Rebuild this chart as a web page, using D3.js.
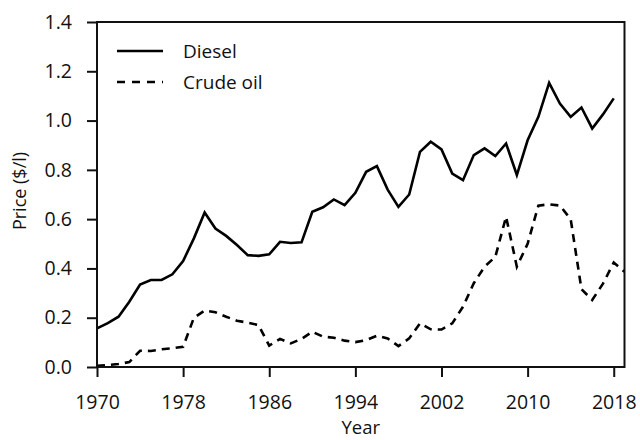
<!DOCTYPE html>
<html>
<head>
<meta charset="utf-8">
<script src="https://cdn.jsdelivr.net/npm/d3@7"></script>
<style>
  body { margin: 0; background: #fff; }
  text { font-family: "Open Sans", sans-serif; fill: #111; }
</style>
</head>
<body>
<figure id="chart" style="margin:0"></figure>
<script>
// years shown on the x axis
const xTicks = [1970, 1978, 1986, 1994, 2002, 2010, 2018];
const yTicks = [0, 0.2, 0.4, 0.6, 0.8, 1.0, 1.2, 1.4];

// diesel price 1970..2018 ($/l)
const dieselStart = 1970;
const diesel = [0.157, 0.178, 0.204, 0.265, 0.335, 0.353, 0.353, 0.376, 0.43, 0.522,
  0.627, 0.562, 0.532, 0.495, 0.454, 0.451, 0.457, 0.508, 0.503, 0.506,
  0.63, 0.648, 0.68, 0.657, 0.707, 0.792, 0.815, 0.72, 0.65, 0.70,
  0.873, 0.914, 0.883, 0.785, 0.758, 0.86, 0.887, 0.856, 0.907, 0.779,
  0.92, 1.015, 1.153, 1.069, 1.015, 1.053, 0.968, 1.025, 1.09];

// crude oil price 1970..2019 ($/l)
const crudeStart = 1970;
const crude = [0.005, 0.008, 0.012, 0.02, 0.066, 0.065, 0.072, 0.076, 0.082, 0.2,
  0.229, 0.222, 0.204, 0.188, 0.18, 0.17, 0.087, 0.114, 0.096, 0.114,
  0.143, 0.123, 0.119, 0.107, 0.101, 0.109, 0.127, 0.116, 0.085, 0.116,
  0.177, 0.153, 0.152, 0.177, 0.245, 0.34, 0.407, 0.447, 0.61, 0.407,
  0.50, 0.655, 0.66, 0.655, 0.6, 0.316, 0.272, 0.338, 0.424, 0.386];

const seriesNames = ["Diesel", "Crude oil"];

const width = 640;
const height = 440;
const margin = { top: 22, right: 15.5, bottom: 73, left: 97 };

const svg = d3.select("figure#chart")
  .append("svg")
  .attr("width", width)
  .attr("height", height);

const x = d3.scaleLinear().domain([1970, 2019]).range([margin.left, width - margin.right]);
const y = d3.scaleLinear().domain([0, 1.4]).range([height - margin.bottom, margin.top]);

svg.append("clipPath").attr("id", "plot")
  .append("rect")
  .attr("x", margin.left).attr("y", margin.top)
  .attr("width", width - margin.left - margin.right)
  .attr("height", height - margin.top - margin.bottom);

const line = d3.line()
  .x(d => x(d[0]))
  .y(d => y(d[1]));

const dieselPts = diesel.map((v, i) => [dieselStart + i, v]);
const crudePts = crude.map((v, i) => [crudeStart + i, v]);

svg.append("path")
  .datum(crudePts)
  .attr("clip-path", "url(#plot)")
  .attr("d", line)
  .attr("fill", "none")
  .attr("stroke", "#000")
  .attr("stroke-width", 2.6)
  .attr("stroke-dasharray", "8,6");

svg.append("path")
  .datum(dieselPts)
  .attr("d", line)
  .attr("fill", "none")
  .attr("stroke", "#000")
  .attr("stroke-width", 2.6)
  .attr("stroke-linejoin", "miter");

// axes
const xAxis = svg.append("g")
  .attr("transform", "translate(0," + (height - margin.bottom) + ")")
  .call(d3.axisBottom(x).tickValues(xTicks).tickFormat(d3.format("d")).tickSize(10).tickSizeOuter(0).tickPadding(18));

const yAxis = svg.append("g")
  .attr("transform", "translate(" + margin.left + ",0)")
  .call(d3.axisLeft(y).tickValues(yTicks).tickFormat(d3.format(".1f")).tickSize(10).tickSizeOuter(0).tickPadding(15));

[xAxis, yAxis].forEach(g => {
  g.select(".domain").remove();
  g.selectAll(".tick line").attr("stroke", "#111").attr("stroke-width", 2);
  g.selectAll(".tick text").style("font-size", "19.5px").attr("fill", "#111");
});

// frame
svg.append("rect")
  .attr("x", margin.left)
  .attr("y", margin.top)
  .attr("width", width - margin.left - margin.right)
  .attr("height", height - margin.top - margin.bottom)
  .attr("fill", "none")
  .attr("stroke", "#111")
  .attr("stroke-width", 2);

// axis titles
svg.append("text")
  .attr("x", (margin.left + width - margin.right) / 2)
  .attr("y", 434)
  .attr("text-anchor", "middle")
  .style("font-size", "18.5px")
  .text("Year");

svg.append("text")
  .attr("transform", "translate(26,191) rotate(-90)")
  .attr("text-anchor", "middle")
  .style("font-size", "18px")
  .text("Price ($/l)");

// legend
const legend = svg.append("g");
seriesNames.forEach((name, i) => {
  const ly = 51 + i * 31;
  legend.append("line")
    .attr("x1", 117).attr("x2", 163)
    .attr("y1", ly).attr("y2", ly)
    .attr("stroke", "#000")
    .attr("stroke-width", 2.6)
    .attr("stroke-dasharray", i === 1 ? "8,7" : null);
  legend.append("text")
    .attr("x", 183)
    .attr("y", ly)
    .attr("dy", "0.35em")
    .style("font-size", "19px")
    .text(name);
});
</script>
</body>
</html>
